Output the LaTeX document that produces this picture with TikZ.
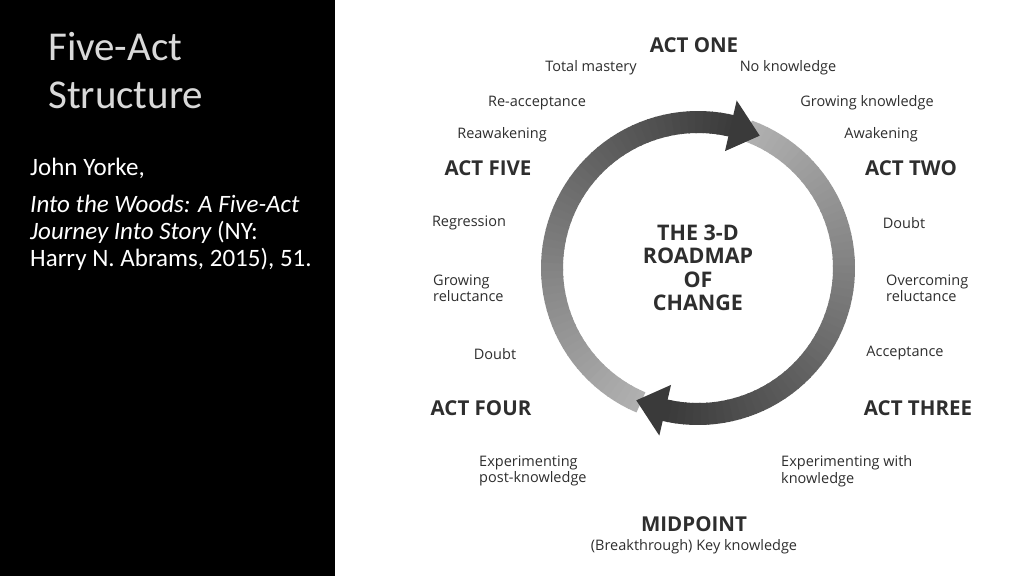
\documentclass[tikz,border=0pt]{standalone}
\usepackage{fontspec}
\setmainfont{Open Sans}
\newfontfamily\slidefont{Carlito}
\usetikzlibrary{positioning}
\definecolor{ringdark}{HTML}{3A3A3A}
\definecolor{ringlight}{HTML}{B0B0B0}
\definecolor{inkgray}{HTML}{2E2E2E}
\begin{document}
\begin{tikzpicture}[x=1pt,y=-1pt,
  stagelabel/.style={font=\fontsize{14.5}{16.5}\selectfont,text=inkgray,inner sep=0pt,align=left},
  actlabel/.style={font=\fontsize{20.5}{23}\selectfont\bfseries,text=inkgray,inner sep=0pt},
  sidetext/.style={font=\slidefont\fontsize{25}{27}\selectfont,text=white,anchor=west,inner sep=0pt}]
\useasboundingbox (0,0) rectangle (1024,576);
\fill[black] (0,0) rectangle (335,576);
\fill[white] (335,0) rectangle (1024,576);
% left panel
\node[font=\slidefont\fontsize{41}{48}\selectfont,text=white!85!black,anchor=west,align=left,inner sep=0pt] (title) at (48,71) {Five-Act\\Structure};
\node[sidetext] (author) at (30,168) {John Yorke,};
\node[sidetext,align=left,anchor=north west] (source) at (30,195) {\itshape Into the Woods: A Five-Act\\\itshape Journey Into Story\upshape\ (NY:\\Harry N. Abrams, 2015), 51.};
% ring
\coordinate (C) at (698,268);
\foreach \i in {0,...,57}{
  \pgfmathsetmacro\shade{100*\i/57}
  \colorlet{segcol}{ringdark!\shade!ringlight}
  \draw[segcol,line width=22pt] ([shift={(-247+3*\i:146)}]C) arc[start angle=-247+3*\i,end angle=-243.5+3*\i,radius=146];
  \draw[segcol,line width=22pt] ([shift={(-70+3*\i:146)}]C) arc[start angle=-70+3*\i,end angle=-66.5+3*\i,radius=146];
}
\fill[ringdark] ([shift={(-77:172)}]C) -- ([shift={(-77:120)}]C) -- ([shift={(-65:146)}]C) -- cycle;
\fill[ringdark] ([shift={(-257:172)}]C) -- ([shift={(-257:120)}]C) -- ([shift={(-245:146)}]C) -- cycle;
\node[font=\fontsize{21.5}{23.5}\selectfont\bfseries,text=inkgray,align=center] (hub) at (C) {THE 3-D\\ROADMAP\\OF\\CHANGE};
% labels
\node[actlabel] (one) at (694,45) {ACT ONE};
\node[actlabel] (two) at (911,168) {ACT TWO};
\node[actlabel] (three) at (918,408) {ACT THREE};
\node[actlabel] (mid) at (694,524) {MIDPOINT};
\node[actlabel] (four) at (481,408) {ACT FOUR};
\node[actlabel] (five) at (488,168) {ACT FIVE};
\node[stagelabel] (mastery) at (591,68) {Total mastery};
\node[stagelabel] (noknow) at (788,68) {No knowledge};
\node[stagelabel] (reaccept) at (537,103) {Re-acceptance};
\node[stagelabel] (growknow) at (867,103) {Growing knowledge};
\node[stagelabel] (reawake) at (502,135) {Reawakening};
\node[stagelabel] (awake) at (881,135) {Awakening};
\node[stagelabel] (regress) at (469,223) {Regression};
\node[stagelabel] (doubtr) at (904,223) {Doubt};
\node[stagelabel,anchor=west] (growrel) at (433,288) {Growing\\reluctance};
\node[stagelabel,anchor=west] (overrel) at (886,288) {Overcoming\\reluctance};
\node[stagelabel] (doubtl) at (495,354) {Doubt};
\node[stagelabel] (accept) at (905,353) {Acceptance};
\node[stagelabel,anchor=west] (exppost) at (479,471) {Experimenting\\post-knowledge};
\node[stagelabel,anchor=west] (expwith) at (781,471) {Experimenting with\\knowledge};
\node[stagelabel] (break) at (694,547) {(Breakthrough) Key knowledge};
\end{tikzpicture}
\end{document}
